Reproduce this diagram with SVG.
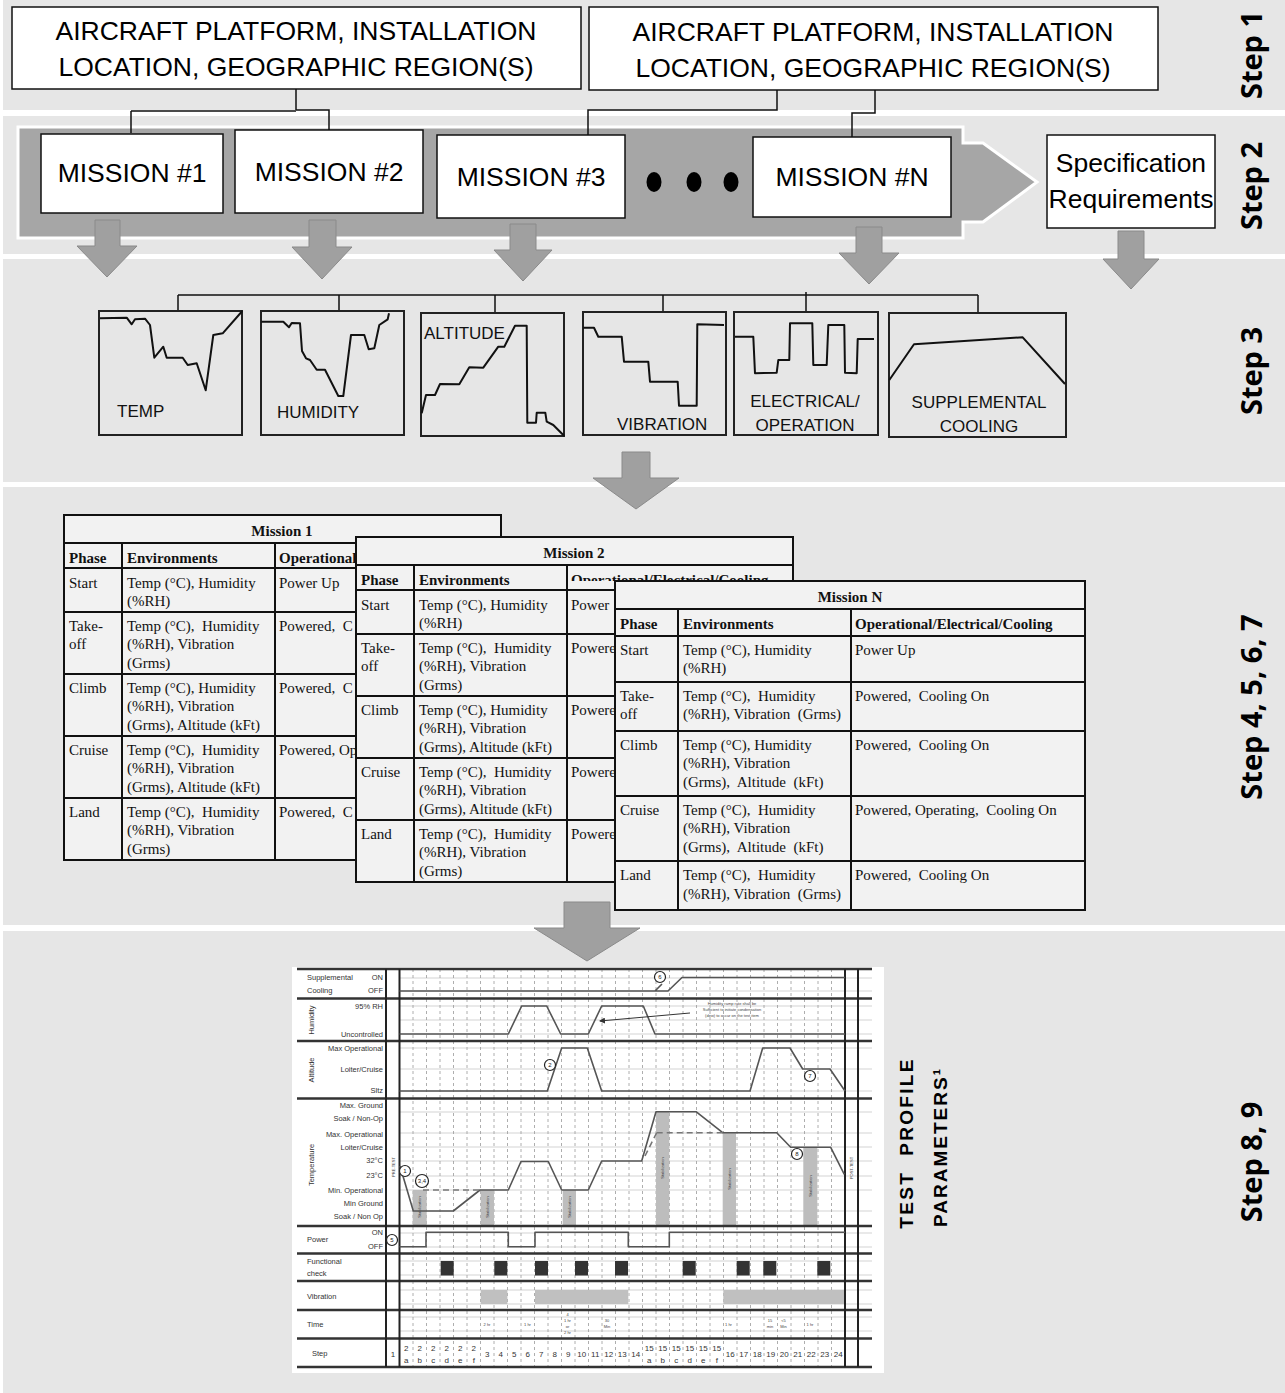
<svg xmlns="http://www.w3.org/2000/svg" width="1285" height="1393" viewBox="0 0 1285 1393">
<style>
.band{fill:#e6e6e6}
.box{fill:#fff;stroke:#111;stroke-width:1.5}
.big{font-family:"Liberation Sans",Arial,sans-serif;font-size:26.5px;fill:#000;text-anchor:middle}
.lbl{font-family:"Liberation Sans",Arial,sans-serif;font-size:17px;fill:#111}
.conn{fill:none;stroke:#111;stroke-width:1.5}
.darr{fill:#a0a0a0;stroke:#8a8a8a;stroke-width:1}
.chart{fill:none;stroke:#222;stroke-width:2}
.crv{fill:none;stroke:#111;stroke-width:2;stroke-linejoin:round}
.tbg{fill:#f2f2f2;stroke:#111;stroke-width:2}
.tln{fill:none;stroke:#111;stroke-width:2}
.tt{font-family:"Liberation Serif","Times New Roman",serif;font-size:15px;fill:#111;white-space:pre}
.tb{font-family:"Liberation Serif","Times New Roman",serif;font-size:15px;font-weight:bold;fill:#111}
.step{font-family:"Open Sans","DejaVu Sans",sans-serif;font-size:29px;font-weight:bold;fill:#000;text-anchor:middle}
.tpp{font-family:"Liberation Sans",Arial,sans-serif;font-size:19px;font-weight:bold;fill:#000;text-anchor:middle;white-space:pre}
.sep{stroke:#333;stroke-width:2.5;fill:none}
.vsep{stroke:#222;stroke-width:2;fill:none}
.grid{stroke:#c8c8c8;stroke-width:0.8;fill:none}
.dgrid{stroke:#999;stroke-width:0.8;stroke-dasharray:3 3;fill:none}
.pc{fill:none;stroke:#555;stroke-width:1.6;stroke-linejoin:round}
.dash{fill:none;stroke:#777;stroke-width:1.6;stroke-dasharray:6 4}
.ct{font-family:"Liberation Sans",Arial,sans-serif;font-size:7.5px;fill:#333}
.ctr{font-family:"Liberation Sans",Arial,sans-serif;font-size:7.5px;fill:#333;text-anchor:end}
.cs{font-family:"Liberation Sans",Arial,sans-serif;font-size:8px;fill:#333;text-anchor:middle}
.tiny{font-family:"Liberation Sans",Arial,sans-serif;font-size:4px;fill:#444;text-anchor:middle}
.stab{fill:#bdbdbd}
.fc{fill:#333}
.vb{fill:#c0c0c0}
.mk{fill:#fff;stroke:#222;stroke-width:1.2}
.mkt{font-family:"Liberation Sans",Arial,sans-serif;font-size:6px;fill:#222;text-anchor:middle}
</style>
<defs>
<marker id="ah" markerWidth="6" markerHeight="6" refX="5" refY="3" orient="auto" markerUnits="userSpaceOnUse">
<path d="M0,0 L6,3 L0,6 Z" fill="#333"/>
</marker>
<clipPath id="m2hdr"><rect x="356" y="560" width="437" height="21"/></clipPath>
</defs>

<!-- background bands -->
<rect class="band" x="3" y="0" width="1282" height="110"/>
<rect class="band" x="3" y="116" width="1282" height="138"/>
<rect class="band" x="3" y="259" width="1282" height="223"/>
<rect class="band" x="3" y="487" width="1282" height="438"/>
<rect class="band" x="3" y="931" width="1282" height="462"/>

<!-- step 2 big arrow body -->
<path d="M18,127 H963 V143 H983 L1037,182 L983,222 H963 V238 H18 Z" fill="#a6a6a6" stroke="#fff" stroke-width="3"/>

<!-- connectors -->
<g id="connectors">
<path class="conn" d="M296,89 V110 M131,111 H296 M296,110 H329 V130 M131,111 V133"/>
<path class="conn" d="M777,90 V110 H588 V135 M875,90 V113 H852 V137"/>
<path class="conn" d="M178,295 H978 M178,295 V311 M339,295 V311 M495,295 V313 M663,295 V312 M806,292 V312 M978,295 V313"/>
<polygon class="darr" points="95,220 120,220 120,246 137,246 107,277 77,246 95,246"/>
<polygon class="darr" points="309,220 336,220 336,247 352,247 322,279 292,247 309,247"/>
<polygon class="darr" points="510,224 536,224 536,250 552,250 523,281 494,250 510,250"/>
<polygon class="darr" points="856,227 882,227 882,253 899,253 869,284 839,253 856,253"/>
<polygon class="darr" points="1118,231 1144,231 1144,259 1159,259 1131,289 1103,259 1118,259"/>
<polygon class="darr" points="622,452 650,452 650,478 679,478 636,509 593,478 622,478"/>
<polygon class="darr" points="564,902 610,902 610,928 640,928 587,961 534,928 564,928"/>
</g>

<!-- step 1 -->
<g id="platform1">
<rect class="box" x="12" y="7" width="569" height="82"/>
<text class="big" x="296" y="40">AIRCRAFT PLATFORM, INSTALLATION</text>
<text class="big" x="296" y="76">LOCATION, GEOGRAPHIC REGION(S)</text>
</g>
<g id="platform2">
<rect class="box" x="589" y="7" width="569" height="83"/>
<text class="big" x="873" y="41">AIRCRAFT PLATFORM, INSTALLATION</text>
<text class="big" x="873" y="77">LOCATION, GEOGRAPHIC REGION(S)</text>
</g>

<!-- step 2 -->
<g id="mission1"><rect class="box" x="41" y="134" width="182" height="79"/><text class="big" x="132" y="182">MISSION #1</text></g>
<g id="mission2"><rect class="box" x="235" y="130" width="188" height="83"/><text class="big" x="329" y="181">MISSION #2</text></g>
<g id="mission3"><rect class="box" x="437" y="135" width="188" height="83"/><text class="big" x="531" y="186">MISSION #3</text></g>
<g id="dots"><ellipse cx="654" cy="182" rx="7.5" ry="10" fill="#000"/><ellipse cx="694" cy="182" rx="7.5" ry="10" fill="#000"/><ellipse cx="731" cy="182" rx="7.5" ry="10" fill="#000"/></g>
<g id="missionN"><rect class="box" x="753" y="137" width="198" height="80"/><text class="big" x="852" y="186">MISSION #N</text></g>
<g id="spec"><rect class="box" x="1047" y="135" width="168" height="93"/><text class="big" x="1131" y="172">Specification</text><text class="big" x="1131" y="208">Requirements</text></g>

<!-- step 3 charts -->
<g id="temp">
<rect class="chart" x="99" y="311" width="143" height="124"/>
<polyline class="crv" points="100,318.3 126.7,317.7 131.7,324.3 135,319.3 145,318.7 150,325 154.3,357.7 163.3,346.7 166.7,357.7 182.7,357.7 187.7,365 196.7,363.3 205.7,390.3 213.3,335 222.7,333.3 242.3,311"/>
<text class="lbl" x="117" y="417">TEMP</text>
</g>
<g id="humidity">
<rect class="chart" x="261" y="311" width="143" height="124"/>
<polyline class="crv" points="261.3,321.7 283.3,321.7 289,327.3 291.7,323 300,323.3 302,351 306,358.3 310,360 316.7,369.7 325,369.7 338.3,396 343.3,396 351,335 364.3,335 368.7,349.3 374.3,348.3 379.3,325 387.7,319.3 389,313.3"/>
<text class="lbl" x="277" y="418">HUMIDITY</text>
</g>
<g id="altitude">
<rect class="chart" x="421" y="313" width="143" height="123"/>
<text class="lbl" x="424" y="339">ALTITUDE</text>
<polyline class="crv" points="421.7,413.3 426,395 435,395 440,384 459.3,384.3 469.3,367.3 483.3,367.7 498.3,346.7 504.3,346.7 515,325.7 526.7,325.7 527.3,422.7 536,422.7 536.7,412.7 545.3,412.7 546.7,421.7 553.3,425 564.3,436"/>
</g>
<g id="vibration">
<rect class="chart" x="583" y="312" width="143" height="123"/>
<polyline class="crv" points="583.3,327.7 594,327.7 598.3,336.7 621.7,336.7 624,361.7 648.3,361.7 650,381.7 677.7,381.7 679,405.7 696.7,405.7 697.3,324.3 724,325"/>
<text class="lbl" x="617" y="430">VIBRATION</text>
</g>
<g id="electrical">
<rect class="chart" x="734" y="312" width="144" height="123"/>
<polyline class="crv" points="735,336.7 753.3,336.7 755,373.3 776.7,372.7 778.3,360 789.3,360 790,323.3 812.3,323.3 813.3,365 826.7,365 828.3,325 844.3,325 845,372.7 856.7,373.3 857.7,339 874,339"/>
<text class="lbl" x="805" y="407" text-anchor="middle" font-size="16.5">ELECTRICAL/</text>
<text class="lbl" x="805" y="431" text-anchor="middle" font-size="16.5">OPERATION</text>
</g>
<g id="cooling">
<rect class="chart" x="889" y="313" width="177" height="124"/>
<polyline class="crv" points="889.3,380 914,344.3 1022.7,337.3 1065,384"/>
<text class="lbl" x="979" y="408" text-anchor="middle">SUPPLEMENTAL</text>
<text class="lbl" x="979" y="432" text-anchor="middle">COOLING</text>
</g>

<!-- step 4-7 tables -->
<g id="table1">
<rect class="tbg" x="64" y="515" width="437" height="345"/>
<path class="tln" d="M64,543 H501 M64,568 H501 M64,612 H501 M64,674 H501 M64,736 H501 M64,798 H501 M122,543 V860 M275,543 V860"/>
<text class="tb" x="282" y="536" text-anchor="middle">Mission 1</text>
<text class="tb" x="69" y="563">Phase</text><text class="tb" x="127" y="563">Environments</text><text class="tb" x="279" y="563">Operational</text>
<text class="tt" x="69" y="588">Start</text><text class="tt" x="127" y="588">Temp (°C), Humidity</text><text class="tt" x="127" y="606">(%RH)</text><text class="tt" x="279" y="588">Power Up</text>
<text class="tt" x="69" y="631">Take-</text><text class="tt" x="69" y="649">off</text><text class="tt" x="127" y="631">Temp (°C),  Humidity</text><text class="tt" x="127" y="649">(%RH), Vibration</text><text class="tt" x="127" y="668">(Grms)</text><text class="tt" x="279" y="631">Powered,  C</text>
<text class="tt" x="69" y="693">Climb</text><text class="tt" x="127" y="693">Temp (°C), Humidity</text><text class="tt" x="127" y="711">(%RH), Vibration</text><text class="tt" x="127" y="730">(Grms), Altitude (kFt)</text><text class="tt" x="279" y="693">Powered,  C</text>
<text class="tt" x="69" y="755">Cruise</text><text class="tt" x="127" y="755">Temp (°C),  Humidity</text><text class="tt" x="127" y="773">(%RH), Vibration</text><text class="tt" x="127" y="792">(Grms), Altitude (kFt)</text><text class="tt" x="279" y="755">Powered, Op</text>
<text class="tt" x="69" y="817">Land</text><text class="tt" x="127" y="817">Temp (°C),  Humidity</text><text class="tt" x="127" y="835">(%RH), Vibration</text><text class="tt" x="127" y="854">(Grms)</text><text class="tt" x="279" y="817">Powered,  C</text>
</g>
<g id="table2">
<rect class="tbg" x="356" y="537" width="437" height="345"/>
<path class="tln" d="M356,565 H793 M356,590 H793 M356,634 H793 M356,696 H793 M356,758 H793 M356,820 H793 M414,565 V882 M567,565 V882"/>
<text class="tb" x="574" y="558" text-anchor="middle">Mission 2</text>
<text class="tb" x="361" y="585">Phase</text><text class="tb" x="419" y="585">Environments</text><text class="tb" x="571" y="585" clip-path="url(#m2hdr)">Operational/Electrical/Cooling</text>
<text class="tt" x="361" y="610">Start</text><text class="tt" x="419" y="610">Temp (°C), Humidity</text><text class="tt" x="419" y="628">(%RH)</text><text class="tt" x="571" y="610">Power</text>
<text class="tt" x="361" y="653">Take-</text><text class="tt" x="361" y="671">off</text><text class="tt" x="419" y="653">Temp (°C),  Humidity</text><text class="tt" x="419" y="671">(%RH), Vibration</text><text class="tt" x="419" y="690">(Grms)</text><text class="tt" x="571" y="653">Powere</text>
<text class="tt" x="361" y="715">Climb</text><text class="tt" x="419" y="715">Temp (°C), Humidity</text><text class="tt" x="419" y="733">(%RH), Vibration</text><text class="tt" x="419" y="752">(Grms), Altitude (kFt)</text><text class="tt" x="571" y="715">Powere</text>
<text class="tt" x="361" y="777">Cruise</text><text class="tt" x="419" y="777">Temp (°C),  Humidity</text><text class="tt" x="419" y="795">(%RH), Vibration</text><text class="tt" x="419" y="814">(Grms), Altitude (kFt)</text><text class="tt" x="571" y="777">Powere</text>
<text class="tt" x="361" y="839">Land</text><text class="tt" x="419" y="839">Temp (°C),  Humidity</text><text class="tt" x="419" y="857">(%RH), Vibration</text><text class="tt" x="419" y="876">(Grms)</text><text class="tt" x="571" y="839">Powere</text>
</g>
<g id="tableN">
<rect class="tbg" x="615" y="581" width="470" height="329"/>
<path class="tln" d="M615,609 H1085 M615,636 H1085 M615,682 H1085 M615,731 H1085 M615,796 H1085 M615,861 H1085 M678,609 V910 M851,609 V910"/>
<text class="tb" x="850" y="602" text-anchor="middle">Mission N</text>
<text class="tb" x="620" y="629">Phase</text><text class="tb" x="683" y="629">Environments</text><text class="tb" x="855" y="629">Operational/Electrical/Cooling</text>
<text class="tt" x="620" y="655">Start</text><text class="tt" x="683" y="655">Temp (°C), Humidity</text><text class="tt" x="683" y="673">(%RH)</text><text class="tt" x="855" y="655">Power Up</text>
<text class="tt" x="620" y="701">Take-</text><text class="tt" x="620" y="719">off</text><text class="tt" x="683" y="701">Temp (°C),  Humidity</text><text class="tt" x="683" y="719">(%RH), Vibration  (Grms)</text><text class="tt" x="855" y="701">Powered,  Cooling On</text>
<text class="tt" x="620" y="750">Climb</text><text class="tt" x="683" y="750">Temp (°C), Humidity</text><text class="tt" x="683" y="768">(%RH), Vibration</text><text class="tt" x="683" y="787">(Grms),  Altitude  (kFt)</text><text class="tt" x="855" y="750">Powered,  Cooling On</text>
<text class="tt" x="620" y="815">Cruise</text><text class="tt" x="683" y="815">Temp (°C),  Humidity</text><text class="tt" x="683" y="833">(%RH), Vibration</text><text class="tt" x="683" y="852">(Grms),  Altitude  (kFt)</text><text class="tt" x="855" y="815">Powered, Operating,  Cooling On</text>
<text class="tt" x="620" y="880">Land</text><text class="tt" x="683" y="880">Temp (°C),  Humidity</text><text class="tt" x="683" y="899">(%RH), Vibration  (Grms)</text><text class="tt" x="855" y="880">Powered,  Cooling On</text>
</g>

<!-- step 8,9 test profile chart -->
<g id="testprofile">
<rect x="292" y="967" width="592" height="406" fill="#fff"/>
<path class="grid" d="M399.5,978H872 M399.5,991H872 M399.5,1006H872 M399.5,1020H872 M399.5,1034H872 M399.5,1048H872 M399.5,1069H872 M399.5,1091H872 M399.5,1112H872 M399.5,1133H872 M399.5,1147H872 M399.5,1161H872 M399.5,1176H872 M399.5,1190H872 M399.5,1211H872 M399.5,1233H872 M399.5,1247H872 M399.5,1261H872 M399.5,1275H872 M399.5,1290H872 M399.5,1304H872 M399.5,1317H872 M399.5,1331H872"/>
<path class="dgrid" d="M413,969V1367 M426.5,969V1367 M440,969V1367 M453.5,969V1367 M467,969V1367 M480.5,969V1367 M494,969V1367 M507.5,969V1367 M521,969V1367 M534.5,969V1367 M548,969V1367 M561.5,969V1367 M575,969V1367 M588.5,969V1367 M602,969V1367 M615.5,969V1367 M629,969V1367 M642.5,969V1367 M656,969V1367 M669.5,969V1367 M683,969V1367 M696.5,969V1367 M710,969V1367 M723.5,969V1367 M737,969V1367 M750.5,969V1367 M764,969V1367 M777.5,969V1367 M791,969V1367 M804.5,969V1367 M818,969V1367 M831.5,969V1367"/>
<!-- stabilization bars -->
<rect class="stab" x="412.7" y="1190" width="14" height="35"/>
<rect class="stab" x="480.7" y="1190" width="13.3" height="35"/>
<rect class="stab" x="562.7" y="1190" width="13.3" height="35"/>
<rect class="stab" x="656" y="1111.7" width="13.3" height="113.5"/>
<rect class="stab" x="722.7" y="1132.7" width="13.3" height="92.5"/>
<rect class="stab" x="803.3" y="1147.3" width="14" height="78"/>
<text class="tiny" transform="translate(421,1207) rotate(-90)">Stabilization</text>
<text class="tiny" transform="translate(489,1207) rotate(-90)">Stabilization</text>
<text class="tiny" transform="translate(571,1207) rotate(-90)">Stabilization</text>
<text class="tiny" transform="translate(664,1168) rotate(-90)">Stabilization</text>
<text class="tiny" transform="translate(731,1179) rotate(-90)">Stabilization</text>
<text class="tiny" transform="translate(812,1186) rotate(-90)">Stabilization</text>
<!-- vibration bars & functional checks -->
<rect class="vb" x="480.7" y="1290" width="26.7" height="14"/>
<rect class="vb" x="535" y="1290" width="93.3" height="14"/>
<rect class="vb" x="723.3" y="1290" width="121.7" height="14"/>
<rect class="fc" x="440.7" y="1261" width="13" height="14.5"/>
<rect class="fc" x="494.3" y="1261" width="13" height="14.5"/>
<rect class="fc" x="535" y="1261" width="13" height="14.5"/>
<rect class="fc" x="575" y="1261" width="13" height="14.5"/>
<rect class="fc" x="615" y="1261" width="13" height="14.5"/>
<rect class="fc" x="682.7" y="1261" width="13" height="14.5"/>
<rect class="fc" x="736.7" y="1261" width="13" height="14.5"/>
<rect class="fc" x="763.3" y="1261" width="13" height="14.5"/>
<rect class="fc" x="817.3" y="1261" width="13" height="14.5"/>
<!-- separators -->
<path class="sep" d="M297,969H872 M297,998.5H872 M297,1041H872 M297,1098.5H872 M297,1226H872 M297,1253.5H872 M297,1281H872 M297,1310H872 M297,1338.5H872 M297,1367H872"/>
<path class="vsep" d="M386,969V1367 M399.5,969V1367 M845,969V1367 M858,969V1367"/>
<!-- curves -->
<path class="pc" d="M399.5,991 H668 L682,977.5 H845 M655,991 L662,984"/>
<path class="pc" d="M399.5,1034 H508.3 L521.7,1006 H546.7 L560.7,1034 H588.3 L601.7,1006 H643.3 L655,1034 H845"/>
<path class="pc" d="M399.5,1091 H547.3 L561.7,1048 H587.3 L601.7,1091 H750 L762.7,1048 H790 L802.7,1069 H830 L845,1091"/>
<path class="pc" d="M400,1166 L413.3,1211 H453.3 L480,1190 H508.3 L521,1161.5 H548.3 L561.7,1190 H588.3 L601.7,1161 H641.7 L656,1111.7 H696 L722.7,1132.7 H776.7 L790.7,1147.3 H830.7 L844.3,1174.3"/>
<path class="dash" d="M423,1190 H480 M656.7,1132.7 H722.7 M645,1156 L656.7,1132.7"/>
<path class="pc" d="M399.5,1246.7 H426 V1232.3 H508.3 V1246.7 H535 V1232.3 H628.3 V1246.7 H669.3 V1232.3 H845"/>
<!-- humidity note -->
<line x1="690" y1="1013" x2="600" y2="1021" stroke="#333" stroke-width="1" marker-end="url(#ah)"/>
<text class="tiny" x="732" y="1005">Humidity ramp rate shall be</text>
<text class="tiny" x="732" y="1011">Sufficient to initiate condensation</text>
<text class="tiny" x="732" y="1017">(dew) to occur on the test item</text>
<!-- markers -->
<circle class="mk" cx="405" cy="1171" r="5.5"/><text class="mkt" x="405" y="1173">1</text>
<circle class="mk" cx="422" cy="1181" r="6.5"/><text class="mkt" x="422" y="1183" font-size="5">3,4</text>
<circle class="mk" cx="550" cy="1065" r="5.5"/><text class="mkt" x="550" y="1067">2</text>
<circle class="mk" cx="660" cy="977" r="5.5"/><text class="mkt" x="660" y="979">6</text>
<circle class="mk" cx="810" cy="1076" r="5.5"/><text class="mkt" x="810" y="1078">7</text>
<circle class="mk" cx="797" cy="1154" r="5.5"/><text class="mkt" x="797" y="1156">8</text>
<circle class="mk" cx="392" cy="1240" r="5.5"/><text class="mkt" x="392" y="1242">5</text>
<text class="tiny" font-size="6.5" transform="translate(395,1167) rotate(-90)">PRE-TEST</text>
<text class="tiny" font-size="6.5" transform="translate(853,1168) rotate(-90)">POST-TEST</text>
<!-- row labels -->
<text class="ct" x="307" y="980">Supplemental</text><text class="ctr" x="383" y="980">ON</text>
<text class="ct" x="307" y="993">Cooling</text><text class="ctr" x="383" y="993">OFF</text>
<text class="ct" text-anchor="middle" transform="translate(314,1020) rotate(-90)">Humidity</text>
<text class="ctr" x="383" y="1009">95% RH</text><text class="ctr" x="383" y="1037">Uncontrolled</text>
<text class="ct" text-anchor="middle" transform="translate(314,1070) rotate(-90)">Altitude</text>
<text class="ctr" x="383" y="1051">Max Operational</text><text class="ctr" x="383" y="1072">Loiter/Cruise</text><text class="ctr" x="383" y="1093">Sltz</text>
<text class="ct" text-anchor="middle" transform="translate(314,1165) rotate(-90)">Temperature</text>
<text class="ctr" x="383" y="1108">Max. Ground</text><text class="ctr" x="383" y="1121">Soak / Non-Op</text><text class="ctr" x="383" y="1137">Max. Operational</text><text class="ctr" x="383" y="1150">Loiter/Cruise</text><text class="ctr" x="383" y="1163">32°C</text><text class="ctr" x="383" y="1178">23°C</text><text class="ctr" x="383" y="1193">Min. Operational</text><text class="ctr" x="383" y="1206">Min Ground</text><text class="ctr" x="383" y="1219">Soak / Non Op</text>
<text class="ct" x="307" y="1242">Power</text><text class="ctr" x="383" y="1235">ON</text><text class="ctr" x="383" y="1249">OFF</text>
<text class="ct" x="307" y="1264">Functional</text><text class="ct" x="307" y="1276">check</text>
<text class="ct" x="307" y="1299">Vibration</text>
<text class="ct" x="307" y="1327">Time</text>
<text class="ct" x="312" y="1356">Step</text>
<!-- time labels -->
<text class="tiny" x="487" y="1326">2 hr</text><text class="tiny" x="527.5" y="1326">1 hr</text>
<text class="tiny" x="567.5" y="1316">4</text><text class="tiny" x="567.5" y="1322">1 hr</text><text class="tiny" x="567.5" y="1328">or</text><text class="tiny" x="567.5" y="1334">2 hr</text>
<text class="tiny" x="607" y="1322">30</text><text class="tiny" x="607" y="1328">Min</text>
<text class="tiny" x="728.5" y="1326">1 hr</text>
<text class="tiny" x="770" y="1322">15</text><text class="tiny" x="770" y="1328">min</text>
<text class="tiny" x="783.5" y="1322">&lt;5</text><text class="tiny" x="783.5" y="1328">Min</text>
<text class="tiny" x="810" y="1326">1 hr</text>
<!-- step labels -->
<text class="cs" x="393" y="1357">1</text>
<text class="cs" x="406.25" y="1351">2</text><text class="cs" x="406.25" y="1363">a</text>
<text class="cs" x="419.75" y="1351">2</text><text class="cs" x="419.75" y="1363">b</text>
<text class="cs" x="433.25" y="1351">2</text><text class="cs" x="433.25" y="1363">c</text>
<text class="cs" x="446.75" y="1351">2</text><text class="cs" x="446.75" y="1363">d</text>
<text class="cs" x="460.25" y="1351">2</text><text class="cs" x="460.25" y="1363">e</text>
<text class="cs" x="473.75" y="1351">2</text><text class="cs" x="473.75" y="1363">f</text>
<text class="cs" x="487.25" y="1357">3</text><text class="cs" x="500.75" y="1357">4</text><text class="cs" x="514.25" y="1357">5</text><text class="cs" x="527.75" y="1357">6</text><text class="cs" x="541.25" y="1357">7</text><text class="cs" x="554.75" y="1357">8</text><text class="cs" x="568.25" y="1357">9</text><text class="cs" x="581.75" y="1357">10</text><text class="cs" x="595.25" y="1357">11</text><text class="cs" x="608.75" y="1357">12</text><text class="cs" x="622.25" y="1357">13</text><text class="cs" x="635.75" y="1357">14</text>
<text class="cs" x="649.25" y="1351">15</text><text class="cs" x="649.25" y="1363">a</text>
<text class="cs" x="662.75" y="1351">15</text><text class="cs" x="662.75" y="1363">b</text>
<text class="cs" x="676.25" y="1351">15</text><text class="cs" x="676.25" y="1363">c</text>
<text class="cs" x="689.75" y="1351">15</text><text class="cs" x="689.75" y="1363">d</text>
<text class="cs" x="703.25" y="1351">15</text><text class="cs" x="703.25" y="1363">e</text>
<text class="cs" x="716.75" y="1351">15</text><text class="cs" x="716.75" y="1363">f</text>
<text class="cs" x="730.25" y="1357">16</text><text class="cs" x="743.75" y="1357">17</text><text class="cs" x="757.25" y="1357">18</text><text class="cs" x="770.75" y="1357">19</text><text class="cs" x="784.25" y="1357">20</text><text class="cs" x="797.75" y="1357">21</text><text class="cs" x="811.25" y="1357">22</text><text class="cs" x="824.75" y="1357">23</text><text class="cs" x="838.25" y="1357">24</text>
</g>

<g id="tpp-label">
<text class="tpp" letter-spacing="2.3" transform="translate(913,1143) rotate(-90)">TEST  PROFILE</text>
<text class="tpp" letter-spacing="2" transform="translate(947,1147) rotate(-90)">PARAMETERS¹</text>
</g>

<!-- step labels -->
<g id="step-labels">
<text class="step" transform="translate(1262,55) rotate(-90)">Step 1</text>
<text class="step" transform="translate(1262,186) rotate(-90)">Step 2</text>
<text class="step" transform="translate(1262,371) rotate(-90)">Step 3</text>
<text class="step" transform="translate(1262,707) rotate(-90)">Step 4, 5, 6, 7</text>
<text class="step" transform="translate(1262,1162) rotate(-90)">Step 8, 9</text>
</g>
</svg>
